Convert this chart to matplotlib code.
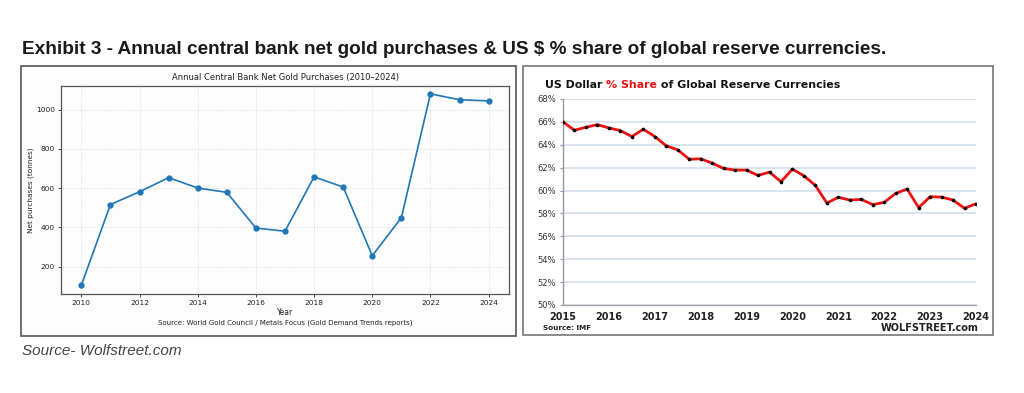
import matplotlib
matplotlib.use("Agg")
import matplotlib.pyplot as plt
from matplotlib.patches import Rectangle
import numpy as np

# ---------------- data ----------------
gold_years = [2010, 2011, 2012, 2013, 2014, 2015, 2016, 2017, 2018, 2019, 2020, 2021, 2022, 2023, 2024]
gold_tonnes = [105, 516, 581, 653, 600, 578, 396, 380, 657, 605, 255, 449, 1080, 1050, 1044]

usd_share = [66.0, 65.27, 65.53, 65.76, 65.47, 65.24, 64.72, 65.36, 64.72, 63.91, 63.56,
             62.74, 62.77, 62.40, 61.93, 61.79, 61.79, 61.32, 61.61, 60.77, 61.87, 61.29,
             60.45, 58.91, 59.41, 59.17, 59.23, 58.77, 58.97, 59.75, 60.13, 58.51, 59.46,
             59.43, 59.17, 58.45, 58.85]
usd_year_labels = ["2015", "2016", "2017", "2018", "2019", "2020", "2021", "2022", "2023", "2024"]
usd_yticks = [50, 52, 54, 56, 58, 60, 62, 64, 66, 68]

W, H = 1024, 393
fig = plt.figure(figsize=(W / 100, H / 100), dpi=100)
fig.patch.set_facecolor("white")

def fx(x):
    return x / W

def fy(y):
    return 1 - y / H

# header + caption
fig.text(fx(22), fy(50), "Exhibit 3 - Annual central bank net gold purchases & US $ % share of global reserve currencies.",
         fontsize=13.7, fontweight="bold", family="Liberation Sans",
         color="#1a1a1a", va="center", ha="left")
fig.text(fx(22), fy(351), "Source- Wolfstreet.com", fontsize=11, style="italic",
         family="Liberation Sans", color="#444444", va="center", ha="left")

# panel boxes
fig.patches.append(Rectangle((fx(21), fy(336)), fx(516 - 21), (336 - 66) / H, transform=fig.transFigure,
                             facecolor="#fdfdfd", edgecolor="#555555", lw=1.2, zorder=-5))
fig.patches.append(Rectangle((fx(523), fy(335)), fx(993 - 523), (335 - 66) / H, transform=fig.transFigure,
                             facecolor="white", edgecolor="#777777", lw=1.2, zorder=-5))

# ---------------- left chart ----------------
axL = fig.add_axes([fx(61), fy(294), fx(509 - 61), (294 - 86) / H], zorder=2)
axL.set_facecolor("#fdfdfd")
axL.plot(gold_years, gold_tonnes, color="#1f77b4", lw=1.2, marker="o", ms=3.5)
axL.set_xticks(range(2010, 2025, 2))
axL.set_yticks([200, 400, 600, 800, 1000])
axL.set_xlim(2009.3, 2024.7)
axL.set_ylim(60, 1120)
axL.grid(True, color="#cccccc", lw=0.5, ls=":")
axL.tick_params(labelsize=5.3, length=2.5, width=0.6, pad=2, colors="#222222")
for s in axL.spines.values():
    s.set_color("#555555")
    s.set_linewidth(0.9)
axL.set_title("Annual Central Bank Net Gold Purchases (2010\u20132024)", fontsize=6, pad=4, color="#222222")
axL.set_xlabel("Year", fontsize=5.5, labelpad=1.5, color="#222222")
axL.set_ylabel("Net purchases (tonnes)", fontsize=5.3, labelpad=1.5, color="#222222")
fig.text(fx(285), fy(323), "Source: World Gold Council / Metals Focus (Gold Demand Trends reports)",
         fontsize=5, ha="center", va="center", color="#222222")

# ---------------- right chart ----------------
axR = fig.add_axes([fx(563), fy(305), fx(976 - 563), (305 - 99) / H], zorder=2)
axR.set_facecolor("none")
xq = np.arange(len(usd_share))
axR.plot(xq, usd_share, color="#ee1111", lw=2.0, zorder=3)
axR.plot(xq, usd_share, ls="none", marker="o", ms=1.6, color="black", zorder=4)
axR.set_ylim(50, 68)
axR.set_xlim(0, len(usd_share) - 1)
axR.set_yticks(usd_yticks)
axR.set_yticklabels([f"{v}%" for v in usd_yticks])
axR.set_xticks(np.arange(0, len(usd_share), 4))
axR.set_xticklabels(usd_year_labels)
axR.grid(axis="y", color="#cfdcee", lw=1.1)
axR.set_axisbelow(True)
for side in ["top", "right"]:
    axR.spines[side].set_visible(False)
axR.spines["left"].set_color("#999999")
axR.spines["bottom"].set_color("#aaaaaa")
axR.spines["left"].set_linewidth(1.0)
axR.spines["bottom"].set_linewidth(1.0)
axR.tick_params(axis="y", labelsize=6.0, length=2, color="#999999", pad=3, labelcolor="#333333")
axR.tick_params(axis="x", labelsize=7.0, length=0, pad=5, labelcolor="#222222")
for lbl in axR.get_xticklabels():
    lbl.set_fontweight("bold")
    lbl.set_family("DejaVu Sans")
for lbl in axR.get_yticklabels():
    lbl.set_family("DejaVu Sans")

fig.text(fx(543), fy(328), "Source: IMF", fontsize=5.2, fontweight="bold", family="DejaVu Sans",
         color="#222222", va="center", ha="left")
fig.text(fx(979), fy(328), "WOLFSTREET.com", fontsize=7.0, fontweight="bold", family="DejaVu Sans",
         color="#222222", va="center", ha="right")

# multi-colour title
renderer = fig.canvas.get_renderer()
parts = [("US Dollar ", "#111111"), ("% Share", "#ee1111"), (" of Global Reserve Currencies", "#111111")]
x0 = fx(545)
for txt, col in parts:
    t = fig.text(x0, fy(85), txt, fontsize=7.9, fontweight="bold", family="DejaVu Sans",
                 color=col, va="center", ha="left")
    bb = t.get_window_extent(renderer=renderer)
    x0 += bb.width / W

fig.savefig("out.png", dpi=100, facecolor="white")
